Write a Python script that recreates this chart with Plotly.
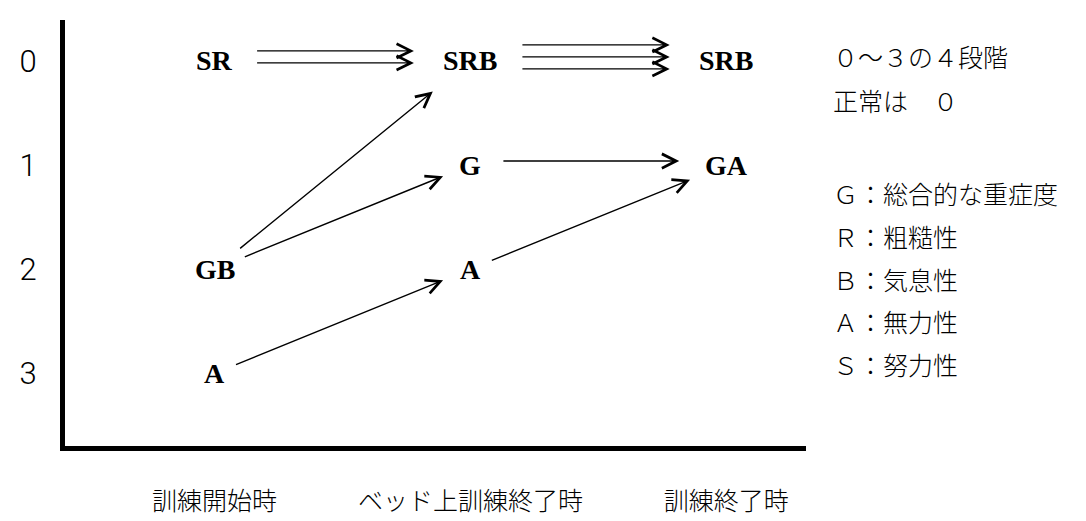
#!/usr/bin/env python3
"""
GRBAS grade changes across training stages (arrow diagram)
"""

import plotly.graph_objects as go

# Stages along the x axis, grade levels along the y axis
stages = ["訓練開始時", "ベッド上訓練終了時", "訓練終了時"]
grades = [0, 1, 2, 3]

# Nodes: which GRBAS items sit at which grade in each stage
node_labels = ["SR", "GB", "A", "SRB", "G", "A", "SRB", "GA"]
node_stage = [0, 0, 0, 1, 1, 1, 2, 2]
node_grade = [0, 2, 3, 0, 1, 2, 0, 1]

# Transitions between nodes (index into the node lists)
link_from = [0, 1, 1, 2, 3, 4, 5]
link_to = [3, 3, 4, 5, 6, 7, 7]

# Side notes
scale_note = ["０～３の４段階", "正常は　０"]
key_codes = ["Ｇ", "Ｒ", "Ｂ", "Ａ", "Ｓ"]
key_names = ["総合的な重症度", "粗糙性", "気息性", "無力性", "努力性"]

# Layout constants (pixels)
W, H = 1086, 521
ML, MR, MT, MB = 55, 288, 12, 61
plot_w = W - ML - MR
plot_h = H - MT - MB

JP_FONT = "Noto Sans CJK JP"
LABEL_FONT = dict(family="Liberation Serif", size=28, color="black", weight=700)

fig = go.Figure()
# invisible trace so the axes are drawn
fig.add_trace(go.Scatter(x=node_stage, y=node_grade, mode="markers",
                         marker=dict(opacity=0), hoverinfo="skip", showlegend=False))

annotations = []

# node labels
for lab, s, g in zip(node_labels, node_stage, node_grade):
    annotations.append(dict(x=s, y=g, xref="x", yref="y", text=lab, showarrow=False,
                            font=LABEL_FONT, xanchor="center", yanchor="middle"))

# arrows: one stroke per GRBAS item carried over to the next stage
for a, b in zip(link_from, link_to):
    la, lb = node_labels[a], node_labels[b]
    strokes = len(set(la) & set(lb))
    flat = node_grade[a] == node_grade[b]
    tail_gap = 9.5 * len(la) + (22 if flat else 12)
    head_gap = 9.5 * len(lb) + (28 if flat else 20)
    for k in range(strokes):
        yshift = 4 + (k - (strokes - 1) / 2) * 12 if flat else 0
        annotations.append(dict(
            x=node_stage[b], y=node_grade[b], ax=node_stage[a], ay=node_grade[a],
            xref="x", yref="y", axref="x", ayref="y", text="",
            showarrow=True, arrowhead=5, arrowsize=2.0, arrowwidth=1.4,
            arrowcolor="black", standoff=head_gap, startstandoff=tail_gap,
            yshift=yshift,
        ))

# right-hand notes
def paper_y(py):
    return (H - MB - py) / plot_h

NOTE_FONT = dict(family=JP_FONT, size=25, color="black", weight=300)
note_x = (823 - ML) / plot_w
for i, txt in enumerate(scale_note):
    annotations.append(dict(x=note_x, y=paper_y(50 + 46 * i), xref="paper", yref="paper",
                            text=txt, showarrow=False, xanchor="left", yanchor="middle",
                            font=NOTE_FONT))
for i, (c, n) in enumerate(zip(key_codes, key_names)):
    annotations.append(dict(x=note_x, y=paper_y(194 + 45 * i), xref="paper", yref="paper",
                            text=f"{c}：{n}", showarrow=False, xanchor="left", yanchor="middle",
                            font=NOTE_FONT))

# stage s sits at 205 + 256.5*s px, grade g at 55 + 109.5*g px
x0 = (ML - 205) / 256.5
x1 = (W - MR - 205) / 256.5
y0 = (MT - 55) / 109.5
y1 = (H - MB - 55) / 109.5

fig.update_layout(
    width=W, height=H,
    margin=dict(l=ML, r=MR, t=MT, b=MB),
    paper_bgcolor="white", plot_bgcolor="white",
    hovermode=False,
    annotations=annotations,
    xaxis=dict(range=[x0, x1], tickvals=[0, 1, 2], ticktext=stages,
               showline=True, linewidth=5, linecolor="black",
               showgrid=False, zeroline=False, ticks="", ticklabelstandoff=29,
               tickfont=dict(family=JP_FONT, size=25, color="black", weight=300)),
    yaxis=dict(range=[y1, y0], tickvals=grades, ticktext=[str(g) for g in grades],
               showline=True, linewidth=5, linecolor="black",
               showgrid=False, zeroline=False, ticks="", ticklabelstandoff=17,
               tickfont=dict(family="Roboto", size=31, color="black", weight=300)),
)

fig.write_html("out.html")
print("Saved out.html")
